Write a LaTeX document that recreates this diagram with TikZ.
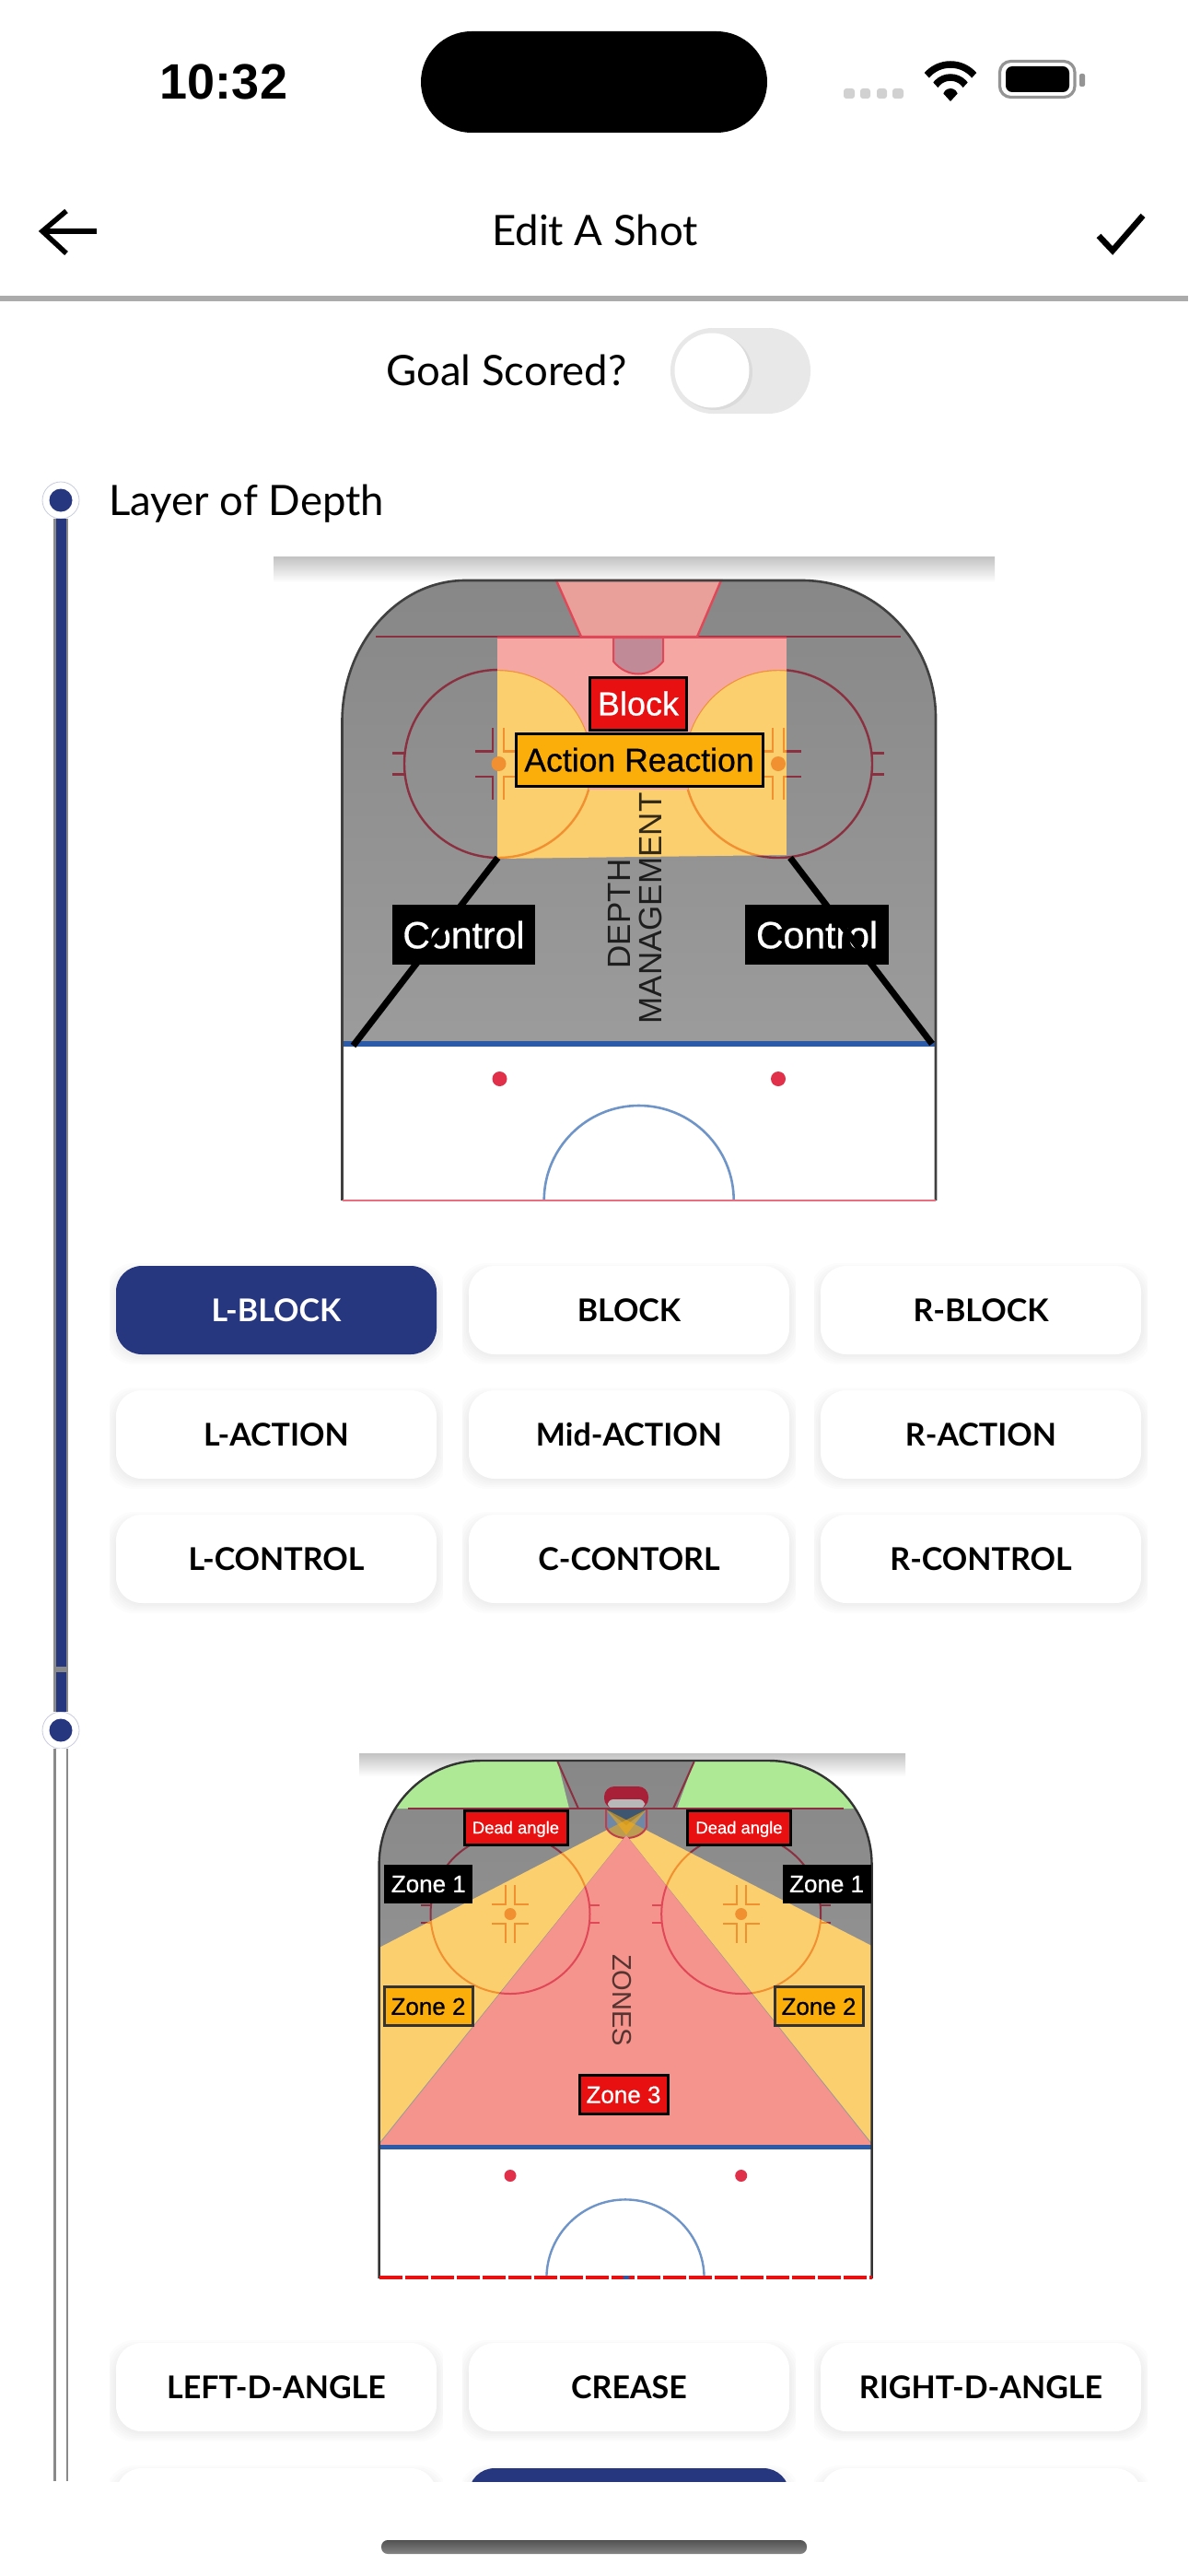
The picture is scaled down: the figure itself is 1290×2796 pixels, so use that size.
\documentclass[tikz,border=0pt]{standalone}
\usepackage{fontspec}
\setmainfont{Lato}
\newfontfamily\timefont{Liberation Sans}
\newfontfamily\labfont[FakeBold=0.7]{Liberation Sans}
\newfontfamily\plainarial{Liberation Sans}
\definecolor{navy}{HTML}{26367F}
\definecolor{railgray}{HTML}{8A8A8A}
\definecolor{zred}{HTML}{E81010}
\definecolor{zamber}{HTML}{FBAE0A}
\definecolor{yellowz}{HTML}{FCCF6E}
\definecolor{pinkA}{HTML}{F5A8A3}
\definecolor{pinkB}{HTML}{F4948D}
\definecolor{darkline}{HTML}{8A3040}
\definecolor{orangeline}{HTML}{F09030}
\definecolor{redline}{HTML}{E04858}
\definecolor{creaseblue}{HTML}{6F95C8}
\definecolor{bluel}{HTML}{2A5AA8}
\definecolor{spot}{HTML}{E0304A}
\definecolor{greenz}{HTML}{AEEA96}
\definecolor{netmauve}{HTML}{C08A96}
\definecolor{netred}{HTML}{A82038}
\definecolor{slate}{HTML}{6F88A8}
\definecolor{slatedark}{HTML}{3F5670}
\tikzset{
 sz/.style={inner sep=0pt,text height=0.72*#1pt,text depth=0pt},
 btnbase/.style={sz=34,minimum width=348pt,minimum height=96pt,rounded corners=28pt,font=\fontsize{34}{34}\selectfont\bfseries},
 btnoff/.style={btnbase,fill=white,text=black},
 btnon/.style={btnbase,fill=navy,text=white},
 zonebox/.style={line width=3pt},
 railon/.style={draw=railgray,line width=2.6pt,double=navy,double distance=11pt},
 railoff/.style={draw=railgray,line width=2.6pt,double=white,double distance=11pt},
 stepdot/.style={circle,draw=navy!25,fill=white,line width=.8pt,minimum size=40pt,inner sep=0pt},
 uifont/.style={sz=45.5,font=\fontsize{45.5}{46}\selectfont},
}
\newcommand\faceoff[4]{%
 \draw (#1,#2) circle[radius=#3pt];
 \foreach \sx in {-1,1}{\foreach \sy in {-1,1}{
   \draw ({#1+\sx*6*#4},{#2+\sy*39*#4}) -- ({#1+\sx*6*#4},{#2+\sy*13.7*#4}) -- ({#1+\sx*25*#4},{#2+\sy*13.7*#4});
   \draw ({#1+\sx*#3},{#2+\sy*11.5*#4}) -- ({#1+\sx*(#3+13*#4)},{#2+\sy*11.5*#4});
 }}%
}
\newcommand\rinkAlines{\faceoff{541}{829}{102}{1}\faceoff{845}{829}{102}{1}}
\newcommand\rinkBlines{\faceoff{554}{2077.5}{86.5}{.8}\faceoff{804.7}{2077.5}{86.5}{.8}}
\newcommand\shotbtn[5]{%
 \begin{scope}
 \clip ({#2-7},{#3-4}) rectangle ({#2+355},{min(#3+108,2693)});
 \foreach \d in {1,3,5,7,9,11}{
  \fill[black,opacity=.012,rounded corners=30pt] ({#2-\d},{#3+8-\d}) rectangle ({#2+348+\d},{#3+96+\d});
 }
 \clip (0,0) rectangle (1290,2693);
 \node[#5] (#1) at ({#2+174},{#3+48}) {#4};
 \end{scope}%
}
\def\rinkA{(371.5,1133) -- (371.5,783) .. controls (371.5,699) and (432,630) .. (505,630) -- (871,630) .. controls (951,630) and (1016,697) .. (1016,779) -- (1016,1133)}
\def\rinkB{(411.6,2330) -- (411.6,2024) .. controls (411.6,1962) and (461,1911) .. (522,1911) -- (835,1911) .. controls (896,1911) and (946.6,1962) .. (946.6,2024) -- (946.6,2330)}
\def\beamL{(702,1964) -- (411.6,2114) -- (411.6,2326) -- cycle}
\def\beamR{(658,1964) -- (946.6,2112) -- (946.6,2326) -- cycle}
\begin{document}
\begin{tikzpicture}[x=1pt,y=-1pt]
\useasboundingbox (0,0) rectangle (1290,2796);
\fill[white] (0,0) rectangle (1290,2796);

% ---- status bar
\node[fill=black,minimum width=376pt,minimum height=110pt,rounded corners=55pt,inner sep=0pt] (island) at (645,89) {};
\node[sz=54,font=\timefont\bfseries\fontsize{54}{54}\selectfont] (clock) at (243,88) {10:32};
\foreach \a/\b in {916/928,934/945,952/963,969/981}{
 \fill[black!18,rounded corners=3pt] (\a,96) rectangle (\b,107);
}
\begin{scope}
 \clip (1032,110) -- (1001,76) -- (1001,60) -- (1063,60) -- (1063,76) -- cycle;
 \draw[line width=7.5pt] (1032,104) circle[radius=34pt];
 \draw[line width=7.5pt] (1032,104) circle[radius=20pt];
 \fill (1032,104) circle[radius=8pt];
\end{scope}
\draw[black!42,line width=3.2pt,rounded corners=12pt] (1085.5,66.5) rectangle (1167,105.5);
\fill[rounded corners=7pt] (1092,72) rectangle (1161,100);
\fill[black!42,rounded corners=2pt] (1172,80) rectangle (1178,94);

% ---- navigation
\coordinate (backTip) at (46,251);
\coordinate (backTail) at (105,251);
\draw[line width=5.5pt] (72,229) -- (backTip) -- (72,275);
\draw[line width=5.5pt] (backTip) -- (backTail);
\node[uifont] (title) at (646,250) {Edit A Shot};
\draw[line width=6.5pt] (1193,256) -- (1208,272) -- (1241,234);
\fill[black!33] (0,321) rectangle (1290,327);

% ---- toggle
\node[uifont] (goal) at (550,402) {Goal Scored?};
\fill[black!9,rounded corners=46pt] (728,356) rectangle (880,449);
\fill[black!14] (776,404) circle[radius=41pt];
\fill[white] (773,402) circle[radius=40.5pt];

% ---- timeline
\node[stepdot] (dotA) at (66,543) {};
\fill[navy] (dotA.center) circle[radius=12.5pt];
\node[uifont,anchor=west] (layer) at (118,543) {Layer of Depth};
\node[stepdot] (dotB) at (66,1878) {};
\fill[navy] (dotB.center) circle[radius=12.5pt];
\coordinate (railEnd) at (66,2693);
\draw[railon] (dotA.south) -- (dotB.north);
\fill[railgray] (57.6,1809) rectangle (74.4,1815);
\draw[railoff] (dotB.south) -- (railEnd);

% ---- rink A
\shade[top color=black!24,bottom color=white] (297,604) rectangle (1080,632);
\fill[white] \rinkA -- (1016,1303) -- (371.5,1303) -- (371.5,1133) -- cycle;
\shade[top color=black!47,bottom color=black!39] \rinkA -- cycle;
\begin{scope}[color=darkline,line width=2.4pt]
 \begin{scope}\clip \rinkA -- cycle; \rinkAlines \end{scope}
 \draw (408,691) -- (978,691);
\end{scope}
\filldraw[fill=pinkA!95!black,draw=redline,line width=2.4pt] (604,630) -- (783,630) -- (757,691) -- (631,691) -- cycle;
\begin{scope}
 \clip (540,693) -- (854,693) -- (854,928) -- (540,932) -- cycle;
 \fill[yellowz] (540,693) rectangle (854,932);
 \begin{scope}[color=orangeline,line width=2.4pt] \rinkAlines \end{scope}
 \fill[pinkA] (540,693) -- (854,693) -- (854,727.4) arc[start angle=85,end angle=195.9,radius=102pt] -- (639,857) arc[start angle=-15.9,end angle=90.6,radius=102pt] -- cycle;
\end{scope}
\draw[redline,line width=2.4pt] (540,692) -- (854,692);
\filldraw[fill=netmauve,draw=redline,line width=2pt] (666,692) -- (720,692) -- (720,718) .. controls (705,736) and (681,736) .. (666,718) -- cycle;
\fill[orangeline] (541.5,829) circle[radius=8pt];
\fill[orangeline] (845,829) circle[radius=8pt];
\fill[white] (371.5,1136) rectangle (1016,1303);
\fill[spot] (542.5,1171) circle[radius=8pt];
\fill[spot] (845,1171) circle[radius=8pt];
\draw[creaseblue,line width=2.6pt] (590.7,1303) arc[start angle=180,end angle=0,radius=103pt];
\draw[bluel,line width=6pt] (371.5,1133) -- (1016,1133);
\draw[black!75,line width=2.6pt] (1016,1303) -- (1016,779) .. controls (1016,697) and (951,630) .. (871,630) -- (505,630) .. controls (432,630) and (371.5,699) .. (371.5,783) -- (371.5,1303);
\draw[spot!70!white,line width=2.6pt] (371.5,1303) -- (1016,1303);
\node[sz=35,rotate=90,font=\plainarial\fontsize{35}{36}\selectfont,text=black,opacity=.8] (depth) at (672,992) {DEPTH};
\node[sz=35,rotate=90,font=\plainarial\fontsize{35}{36}\selectfont,text=black,opacity=.8] (mgmt) at (706,986) {MANAGEMENT};
\node[zonebox,sz=36,draw=black,fill=zred,text=white,minimum width=105pt,minimum height=57pt,font=\labfont\fontsize{36}{36}\selectfont] (block) at (693,763.5) {Block};
\node[zonebox,sz=35.6,draw=black,fill=zamber,text=black,minimum width=268pt,minimum height=57pt,font=\labfont\fontsize{35.6}{36}\selectfont] (action) at (694,824.5) {Action Reaction};
\node[zonebox,sz=41,fill=black,text=white,minimum width=155pt,minimum height=65pt,font=\labfont\fontsize{41}{41}\selectfont] (ctlL) at (503.5,1014.5) {Control};
\node[zonebox,sz=41,fill=black,text=white,minimum width=156pt,minimum height=65pt,font=\labfont\fontsize{41}{41}\selectfont] (ctlR) at (887,1014.5) {Control};
\coordinate (lineLa) at (540.5,931);
\coordinate (lineLb) at (383.5,1135);
\coordinate (lineRa) at (858,931);
\coordinate (lineRb) at (1012,1133);
\draw[line width=7pt] (lineLa) -- (lineLb);
\draw[line width=7pt] (lineRa) -- (lineRb);

% ---- buttons A
\shotbtn{b11}{126}{1374}{L-BLOCK}{btnon}
\shotbtn{b12}{509}{1374}{BLOCK}{btnoff}
\shotbtn{b13}{891}{1374}{R-BLOCK}{btnoff}
\shotbtn{b21}{126}{1509}{L-ACTION}{btnoff}
\shotbtn{b22}{509}{1509}{Mid-ACTION}{btnoff}
\shotbtn{b23}{891}{1509}{R-ACTION}{btnoff}
\shotbtn{b31}{126}{1644}{L-CONTROL}{btnoff}
\shotbtn{b32}{509}{1644}{C-CONTORL}{btnoff}
\shotbtn{b33}{891}{1644}{R-CONTROL}{btnoff}

% ---- rink B
\shade[top color=black!24,bottom color=white] (390,1903) rectangle (983,1928);
\shade[top color=black!47,bottom color=black!39] \rinkB -- cycle;
\begin{scope}
 \clip \rinkB -- cycle;
 \fill[greenz] (400,1963) -- (400,1900) -- (603,1900) -- (605.4,1912) -- (618,1963) -- cycle;
 \fill[greenz] (735,1963) -- (753.7,1912) -- (756,1900) -- (960,1900) -- (960,1963) -- cycle;
 \begin{scope}[color=darkline,line width=2pt] \rinkBlines \end{scope}
\end{scope}
\draw[darkline,line width=2pt] (605.4,1912) -- (628,1963);
\draw[darkline,line width=2pt] (753.7,1912) -- (731,1963);
% goal net
\fill[netred,rounded corners=11pt] (656,1963) -- (656,1939) -- (704,1939) -- (704,1963) -- cycle;
\fill[black!28!white,rounded corners=6pt] (660,1963) -- (660,1953) -- (700,1953) -- (700,1963) -- cycle;
\draw[darkline,line width=2pt] (443,1963) -- (916,1963);
% beams
\begin{scope}
 \clip \beamL;
 \fill[yellowz] (400,1960) rectangle (710,2330);
 \begin{scope}[color=orangeline,line width=2pt] \rinkBlines \end{scope}
\end{scope}
\begin{scope}
 \clip \beamR;
 \fill[yellowz] (650,1960) rectangle (950,2330);
 \begin{scope}[color=orangeline,line width=2pt] \rinkBlines \end{scope}
\end{scope}
% crease
\begin{scope}
 \clip (658,1964) -- (702,1964) -- (702,1983) .. controls (695,1999) and (665,1999) .. (658,1983) -- cycle;
 \fill[slate] (655,1960) rectangle (705,2000);
 \fill[slatedark] (658,1964) -- (702,1964) -- (680,1981) -- cycle;
 \fill[zamber,opacity=.55] \beamL;
 \fill[zamber,opacity=.55] \beamR;
\end{scope}
\draw[redline!60!darkline,line width=2pt] (658,1964) -- (658,1983) .. controls (665,1999) and (695,1999) .. (702,1983) -- (702,1964);
% pink triangle
\begin{scope}
 \clip (680,1992) -- (946.6,2328) -- (411.6,2328) -- cycle;
 \fill[pinkB] (400,1980) rectangle (950,2330);
 \begin{scope}[color=redline,line width=2pt] \rinkBlines \end{scope}
\end{scope}
\fill[orangeline] (554,2077.5) circle[radius=6.5pt];
\fill[orangeline] (804.7,2077.5) circle[radius=6.5pt];
\fill[spot] (554,2361.5) circle[radius=6.5pt];
\fill[spot] (804.7,2361.5) circle[radius=6.5pt];
\draw[creaseblue,line width=2.4pt] (593.4,2473) arc[start angle=180,end angle=0,radius=85.6pt];
\draw[bluel,line width=5pt] (411.6,2330) -- (946.6,2330);
\draw[black!80,line width=2.4pt] (946.6,2473) -- (946.6,2024) .. controls (946.6,1962) and (896,1911) .. (835,1911) -- (522,1911) .. controls (461,1911) and (411.6,1962) .. (411.6,2024) -- (411.6,2473);
\draw[zred,line width=3.6pt,dash pattern=on 25pt off 3pt] (411.6,2472) -- (946.6,2472);
\fill[bluel] (677,2470) rectangle (683,2474);
\node[sz=29,rotate=-90,font=\plainarial\fontsize{29}{29}\selectfont,text=black,opacity=.65] (zones) at (676,2171) {ZONES};
\tikzset{deadlab/.style={zonebox,sz=18.4,draw=black,fill=zred,text=white,minimum width=112pt,minimum height=37pt,font=\labfont\fontsize{18.4}{18}\selectfont},
 zonelab/.style={zonebox,sz=26,minimum width=96pt,minimum height=42pt,font=\labfont\fontsize{26}{26}\selectfont}}
\node[deadlab] (deadL) at (560,1983.5) {Dead angle};
\node[deadlab] (deadR) at (802.5,1983.5) {Dead angle};
\node[zonelab,fill=black,text=white] (z1L) at (465.3,2044.5) {Zone 1};
\node[zonelab,fill=black,text=white] (z1R) at (897.6,2044.5) {Zone 1};
\node[zonelab,draw=black!80,fill=zamber] (z2L) at (465,2177.5) {Zone 2};
\node[zonelab,draw=black!80,fill=zamber] (z2R) at (889,2177.5) {Zone 2};
\node[zonelab,draw=black,fill=zred,text=white] (z3) at (677,2273.3) {Zone 3};

% ---- buttons B
\shotbtn{c11}{126}{2543}{LEFT-D-ANGLE}{btnoff}
\shotbtn{c12}{509}{2543}{CREASE}{btnoff}
\shotbtn{c13}{891}{2543}{RIGHT-D-ANGLE}{btnoff}
\shotbtn{c21}{126}{2679}{}{btnoff}
\shotbtn{c22}{509}{2679}{}{btnon}
\shotbtn{c23}{891}{2679}{}{btnoff}

% ---- home indicator
\shade[top color=black!68,bottom color=black!48,rounded corners=7pt] (414,2757) rectangle (876,2772);
\end{tikzpicture}
\end{document}
